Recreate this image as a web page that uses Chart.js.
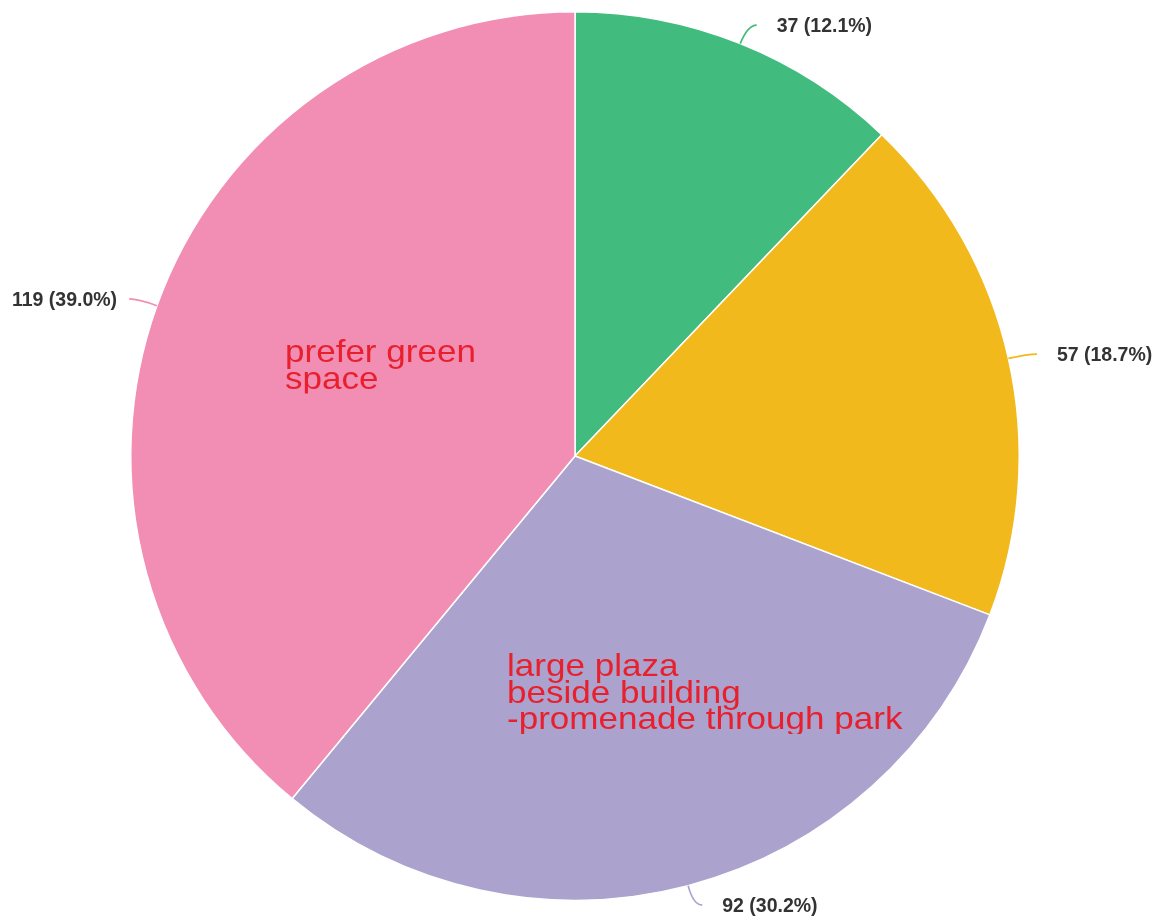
<!DOCTYPE html>
<html>
<head>
<meta charset="utf-8">
<script src="https://cdn.jsdelivr.net/npm/chart.js@4/dist/chart.umd.min.js"></script>
<style>
  html, body { margin: 0; padding: 0; background: #fff; }
  #wrap { width: 1159px; height: 920px; }
</style>
</head>
<body>
<div id="wrap"><canvas id="chart-area"></canvas></div>
<script>
var categories = ['other', 'mixed', 'large plaza beside building -promenade through park', 'prefer green space'];
var counts = [37, 57, 92, 119];
var sliceColors = ['#42BB7E', '#F2B91C', '#ABA3CD', '#F28EB3'];
var notes = [
  { slice: 3, lines: ['prefer green', 'space'], dx: -290, dy: -94 },
  { slice: 2, lines: ['large plaza', 'beside building', '-promenade through park'], dx: -68, dy: 220 }
];

var total = counts.reduce(function(a, b) { return a + b; }, 0);

// leader lines + value labels, like the original export
var outLabels = {
  id: 'outLabels',
  afterDatasetsDraw: function(chart) {
    var ctx = chart.ctx;
    var meta = chart.getDatasetMeta(0);
    meta.data.forEach(function(arc, i) {
      var mid = (arc.startAngle + arc.endAngle) / 2;
      var r = arc.outerRadius;
      var cos = Math.cos(mid), sin = Math.sin(mid);
      var x0 = arc.x + cos * r, y0 = arc.y + sin * r;
      var x1 = arc.x + cos * (r + 20), y1 = arc.y + sin * (r + 20);
      var dir = cos >= 0 ? 1 : -1;
      var x2 = x1 + dir * 9;
      ctx.save();
      ctx.strokeStyle = sliceColors[i];
      ctx.lineWidth = 1.7;
      ctx.beginPath();
      ctx.moveTo(x0, y0);
      ctx.quadraticCurveTo(x1, y1, x2, y1);
      ctx.stroke();
      ctx.fillStyle = '#333';
      ctx.font = 'bold 19.5px "Liberation Sans", Arial, sans-serif';
      ctx.textBaseline = 'middle';
      ctx.textAlign = dir > 0 ? 'left' : 'right';
      var pct = (counts[i] / total * 100).toFixed(1);
      var gap = dir > 0 ? 20 : 12;
      ctx.fillText(counts[i] + ' (' + pct + '%)', x2 + dir * gap, y1 + 2);
      ctx.restore();
    });
  }
};

// red annotations typed over the pie
var redNotes = {
  id: 'redNotes',
  afterDraw: function(chart) {
    var ctx = chart.ctx;
    var arc = chart.getDatasetMeta(0).data[0];
    notes.forEach(function(n) {
      var x = arc.x + n.dx, y = arc.y + n.dy;
      var lh = 26.5;
      ctx.save();
      ctx.beginPath();
      ctx.rect(x - 5, y - 40, 460, (n.lines.length - 1) * lh + 45);
      ctx.clip();
      ctx.fillStyle = '#E8202E';
      ctx.font = '32px "Liberation Sans", Arial, sans-serif';
      ctx.textBaseline = 'alphabetic';
      ctx.textAlign = 'left';
      n.lines.forEach(function(t, k) {
        ctx.save();
        ctx.translate(x, y + k * lh);
        ctx.scale(1.095, 1);
        ctx.fillText(t, 0, 0);
        ctx.restore();
      });
      ctx.restore();
    });
  }
};

var config = {
  type: 'pie',
  data: {
    labels: categories,
    datasets: [{
      data: counts,
      backgroundColor: sliceColors,
      borderColor: '#fff',
      borderWidth: 1.5
    }]
  },
  options: {
    responsive: true,
    maintainAspectRatio: false,
    animation: false,
    layout: { padding: { top: 11, bottom: 19, left: 130, right: 139 } },
    plugins: {
      legend: { display: false },
      tooltip: { enabled: false }
    }
  },
  plugins: [outLabels, redNotes]
};

window.onload = function() {
  var ctx = document.getElementById('chart-area').getContext('2d');
  window.myPie = new Chart(ctx, config);
};
</script>
</body>
</html>
